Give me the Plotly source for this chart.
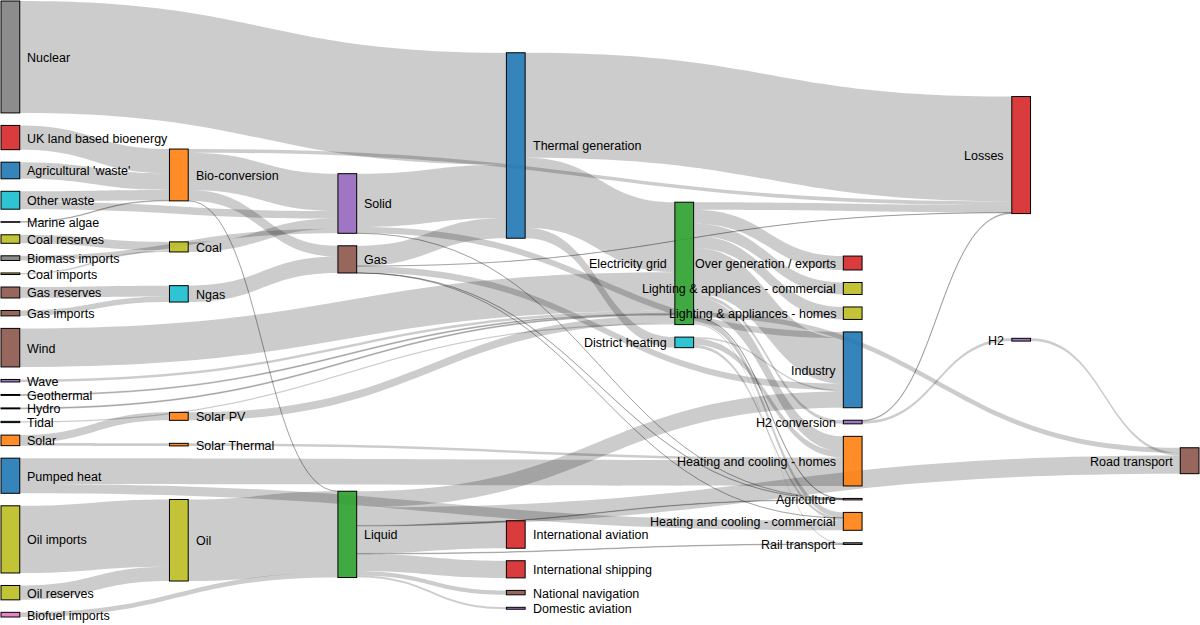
import plotly.graph_objects as go

# ---------------- data ----------------
node_labels = [
    "Agricultural 'waste'", "Bio-conversion", "Liquid", "Losses", "Solid", "Gas",
    "Biofuel imports", "Biomass imports", "Coal imports", "Coal", "Coal reserves",
    "District heating", "Industry", "Heating and cooling - commercial",
    "Heating and cooling - homes", "Electricity grid", "Over generation / exports",
    "H2 conversion", "Road transport", "Agriculture", "Rail transport",
    "Lighting & appliances - commercial", "Lighting & appliances - homes",
    "Gas imports", "Ngas", "Gas reserves", "Thermal generation", "Geothermal",
    "H2", "Hydro", "International shipping", "Domestic aviation",
    "International aviation", "National navigation", "Marine algae", "Nuclear",
    "Oil imports", "Oil", "Oil reserves", "Other waste", "Pumped heat",
    "Solar PV", "Solar Thermal", "Solar", "Tidal", "UK land based bioenergy",
    "Wave", "Wind",
]

link_sources = [
    "Agricultural 'waste'", "Bio-conversion", "Bio-conversion", "Bio-conversion",
    "Bio-conversion", "Biofuel imports", "Biomass imports", "Coal imports",
    "Coal reserves", "Coal", "District heating", "District heating",
    "District heating", "Electricity grid", "Electricity grid", "Electricity grid",
    "Electricity grid", "Electricity grid", "Electricity grid", "Electricity grid",
    "Electricity grid", "Electricity grid", "Electricity grid", "Electricity grid",
    "Gas imports", "Gas reserves", "Gas", "Gas", "Gas", "Gas", "Gas",
    "Geothermal", "H2 conversion", "H2 conversion", "H2", "Hydro",
    "Liquid", "Liquid", "Liquid", "Liquid", "Liquid", "Liquid", "Liquid", "Liquid",
    "Marine algae", "Ngas", "Nuclear", "Oil imports", "Oil reserves", "Oil",
    "Other waste", "Other waste", "Pumped heat", "Pumped heat", "Solar PV",
    "Solar Thermal", "Solar", "Solar", "Solid", "Solid", "Solid",
    "Thermal generation", "Thermal generation", "Thermal generation", "Tidal",
    "UK land based bioenergy", "Wave", "Wind",
]

link_targets = [
    "Bio-conversion", "Liquid", "Losses", "Solid", "Gas", "Liquid", "Solid", "Coal",
    "Coal", "Solid", "Industry", "Heating and cooling - commercial",
    "Heating and cooling - homes", "Over generation / exports",
    "Heating and cooling - homes", "H2 conversion", "Industry", "Road transport",
    "Agriculture", "Heating and cooling - commercial", "Losses", "Rail transport",
    "Lighting & appliances - commercial", "Lighting & appliances - homes",
    "Ngas", "Ngas", "Heating and cooling - commercial", "Losses",
    "Thermal generation", "Agriculture", "Industry",
    "Electricity grid", "H2", "Losses", "Road transport", "Electricity grid",
    "Industry", "International shipping", "Road transport", "Domestic aviation",
    "International aviation", "Agriculture", "National navigation", "Rail transport",
    "Bio-conversion", "Gas", "Thermal generation", "Oil", "Oil", "Liquid",
    "Solid", "Bio-conversion", "Heating and cooling - homes",
    "Heating and cooling - commercial", "Electricity grid",
    "Heating and cooling - homes", "Solar Thermal", "Solar PV", "Agriculture",
    "Thermal generation", "Industry",
    "Electricity grid", "Losses", "District heating", "Electricity grid",
    "Bio-conversion", "Electricity grid", "Electricity grid",
]

link_values = [
    124.729, 0.597, 26.862, 280.322, 81.144, 35, 35, 11.606,
    63.965, 75.571, 10.639, 22.505,
    46.184, 104.453, 113.726, 27.14,
    342.165, 37.797, 4.412, 40.858,
    56.691, 7.863, 90.008, 93.494,
    40.719, 82.233, 0.129, 1.401, 151.891, 2.096, 48.58,
    7.013, 20.897, 6.242, 20.897, 6.995,
    121.066, 128.69, 135.835, 14.458, 206.267, 3.64, 33.218, 4.413,
    4.375, 122.952, 839.978, 504.287, 107.703, 611.99,
    56.587, 77.81, 193.026, 70.672, 59.901,
    19.263, 19.263, 59.901, 0.882, 400.12, 46.477,
    525.531, 787.129, 79.329, 9.452,
    182.01, 19.013, 289.366,
]

# ---------------- figure geometry / style ----------------
FIG_W, FIG_H = 1200, 625
MARGIN = dict(l=1, r=1, t=1, b=8)
W = FIG_W - MARGIN["l"] - MARGIN["r"]
H = FIG_H - MARGIN["t"] - MARGIN["b"]
NODE_W = 18.75
NODE_PAD = 12.5
ITERATIONS = 32
FONT = "Liberation Sans, Arial, Helvetica, sans-serif"

palette = ["#1f77b4", "#ff7f0e", "#2ca02c", "#d62728", "#9467bd",
           "#8c564b", "#e377c2", "#7f7f7f", "#bcbd22", "#17becf"]


# ---------------- classic d3 sankey layout (node placement) ----------------
def sankey_layout(labels, srcs, tgts, vals, width, height, nw, pad, iterations):
    n = len(labels)
    ix = {lab: i for i, lab in enumerate(labels)}
    links = [dict(s=ix[s], t=ix[t], v=v) for s, t, v in zip(srcs, tgts, vals)]
    out_l = [[] for _ in range(n)]
    in_l = [[] for _ in range(n)]
    for L in links:
        out_l[L["s"]].append(L)
        in_l[L["t"]].append(L)
    value = [max(sum(L["v"] for L in out_l[i]), sum(L["v"] for L in in_l[i]))
             for i in range(n)]

    # breadths (columns)
    bx = [0] * n
    remaining = list(range(n))
    depth = 0
    while remaining:
        nxt, seen = [], set()
        for i in remaining:
            bx[i] = depth
            for L in out_l[i]:
                if L["t"] not in seen:
                    seen.add(L["t"])
                    nxt.append(L["t"])
        remaining = nxt
        depth += 1
    kx = (width - nw) / (depth - 1)
    xs = [b * kx for b in bx]

    cols = [[i for i in range(n) if bx[i] == c] for c in sorted(set(bx))]
    ky = min((height - (len(c) - 1) * pad) / sum(value[i] for i in c) for c in cols)
    ys = [0.0] * n
    dy = [value[i] * ky for i in range(n)]
    for c in cols:
        for k, i in enumerate(c):
            ys[i] = float(k)

    def center(i):
        return ys[i] + dy[i] / 2

    def resolve():
        for c in cols:
            c.sort(key=lambda i: ys[i])
            y0 = 0.0
            for i in c:
                d = y0 - ys[i]
                if d > 0:
                    ys[i] += d
                y0 = ys[i] + dy[i] + pad
            d = y0 - pad - height
            if d > 0:
                last = c[-1]
                ys[last] -= d
                y0 = ys[last]
                for i in reversed(c[:-1]):
                    d = ys[i] + dy[i] + pad - y0
                    if d > 0:
                        ys[i] -= d
                    y0 = ys[i]

    def relax_rl(alpha):
        for c in reversed(cols):
            for i in c:
                if out_l[i]:
                    yy = sum(center(L["t"]) * L["v"] for L in out_l[i]) / \
                        sum(L["v"] for L in out_l[i])
                    ys[i] += (yy - center(i)) * alpha

    def relax_lr(alpha):
        for c in cols:
            for i in c:
                if in_l[i]:
                    yy = sum(center(L["s"]) * L["v"] for L in in_l[i]) / \
                        sum(L["v"] for L in in_l[i])
                    ys[i] += (yy - center(i)) * alpha

    resolve()
    alpha = 1.0
    for _ in range(iterations):
        alpha *= 0.99
        relax_rl(alpha)
        resolve()
        relax_lr(alpha)
        resolve()
    return xs, ys, dy


xs, ys, dys = sankey_layout(node_labels, link_sources, link_targets, link_values,
                            W, H, NODE_W, NODE_PAD, ITERATIONS)

# node colours: category10 keyed on the first word of the label
word_index = {}
node_fill, node_stroke = [], []
for lab in node_labels:
    w = lab.split(" ")[0]
    if w not in word_index:
        word_index[w] = len(word_index)
    hx = palette[word_index[w] % len(palette)]
    r, g, b = int(hx[1:3], 16), int(hx[3:5], 16), int(hx[5:7], 16)
    node_fill.append(f"rgba({r},{g},{b},0.9)")
    k = 0.49
    node_stroke.append(f"rgb({int(r*k)},{int(g*k)},{int(b*k)})")

idx = {lab: i for i, lab in enumerate(node_labels)}
node_x = [max((x + NODE_W / 2) / W, 1e-4) for x in xs]
node_y = [max((y + d / 2) / H, 1e-4) for y, d in zip(ys, dys)]

fig = go.Figure(go.Sankey(
    arrangement="fixed",
    node=dict(
        label=[""] * len(node_labels),
        customdata=node_labels,
        hovertemplate="%{customdata}<br>%{value:.0f} TWh<extra></extra>",
        x=node_x,
        y=node_y,
        color=node_fill,
        line=dict(color=node_stroke, width=1),
        pad=NODE_PAD,
        thickness=NODE_W,
        align="left",
    ),
    link=dict(
        source=[idx[s] for s in link_sources],
        target=[idx[t] for t in link_targets],
        value=link_values,
        color="rgba(0,0,0,0.2)",
    ),
))

# node labels: right of node in left half, left of node in right half
annotations = []
for lab, x, y, d in zip(node_labels, xs, ys, dys):
    left_half = x < W / 2
    annotations.append(dict(
        text=lab,
        xref="paper", yref="paper",
        x=(x + NODE_W + 7.5) / W if left_half else (x - 7.5) / W,
        y=1 - (y + d / 2) / H,
        xanchor="left" if left_half else "right",
        yanchor="middle",
        yshift=-1,
        showarrow=False,
        borderpad=0, borderwidth=0,
        font=dict(family=FONT, size=12.5, color="black"),
    ))

fig.update_layout(
    width=FIG_W, height=FIG_H,
    margin=MARGIN,
    paper_bgcolor="white",
    annotations=annotations,
)

# remove the browser's default 8px body margin so the figure fills the window
fig.write_html("out.html",
               config={"displayModeBar": False},
               post_script="document.body.style.margin='0';"
                           "document.body.style.overflow='hidden';")
